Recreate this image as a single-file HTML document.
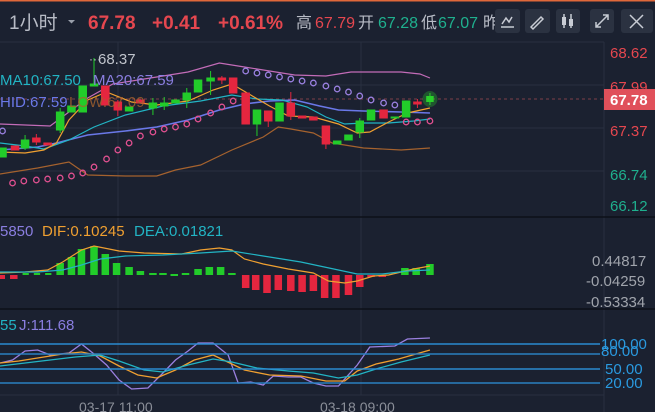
<!DOCTYPE html>
<html><head><meta charset="utf-8"><style>
html,body{margin:0;padding:0;background:#1b2130;width:655px;height:412px;overflow:hidden}
svg{display:block;font-family:"Liberation Sans","Noto Sans CJK SC",sans-serif}
.s *{vector-effect:non-scaling-stroke}
</style></head><body>
<svg width="655" height="412" viewBox="0 0 655 412">
<rect width="655" height="412" fill="#1b2130"/>
<rect x="0" y="0" width="655" height="1.5" fill="#e0683a"/>
<!-- header -->
<text x="9" y="29" font-size="19" fill="#b8bcc6">1小时</text>
<path d="M68 20 l3.5 3.5 l3.5 -3.5z" fill="#9aa0ab"/>
<text x="88" y="29" font-size="19" font-weight="bold" fill="#e5474f">67.78</text>
<text x="152" y="29" font-size="19" font-weight="bold" fill="#e5474f">+0.41</text>
<text x="218" y="29" font-size="19" font-weight="bold" fill="#e5474f">+0.61%</text>
<text x="296" y="28" font-size="16" fill="#b8bcc6">高</text>
<text x="315" y="28" font-size="16" fill="#e5474f">67.79</text>
<text x="358" y="28" font-size="16" fill="#b8bcc6">开</text>
<text x="378" y="28" font-size="16" fill="#1fb08e">67.28</text>
<text x="421" y="28" font-size="16" fill="#b8bcc6">低</text>
<text x="438" y="28" font-size="16" fill="#1fb08e">67.07</text>
<text x="483" y="28" font-size="16" fill="#b8bcc6">昨</text>
<g fill="#2b3241">
<rect x="495" y="9" width="25" height="24" rx="3"/><rect x="525" y="9" width="25" height="24" rx="3"/><rect x="556" y="9" width="24" height="24" rx="3"/><rect x="590" y="9" width="24" height="24" rx="3"/><rect x="621" y="9" width="32" height="24" rx="3"/></g>
<g stroke="#c8ccd4" stroke-width="1.5" fill="none">
<path d="M501 27h13M502 24l4-6 3 4 3-5"/><path d="M531 27l10-10 2 2-10 10z"/><path d="M564 14v14M571 14v14"/>
<path d="M596 27l12-12M596 22v5h5M608 20v-5h-5"/><path d="M630 15l13 13M643 15l-13 13"/></g>
<rect x="562" y="17" width="4" height="8" fill="#c8ccd4"/><rect x="569" y="19" width="4" height="7" fill="#c8ccd4"/>
<!-- grid -->
<g stroke="#283040" stroke-width="1">
<line x1="0" y1="42" x2="604" y2="42"/><line x1="0" y1="85" x2="604" y2="85"/><line x1="0" y1="128" x2="604" y2="128"/><line x1="0" y1="171" x2="604" y2="171"/>
<line x1="118" y1="42" x2="118" y2="395"/><line x1="361" y1="42" x2="361" y2="395"/><line x1="604" y1="42" x2="604" y2="412"/>
<line x1="0" y1="395" x2="604" y2="395"/></g>
<line x1="0" y1="217" x2="655" y2="217" stroke="#0d1118" stroke-width="1.5"/>
<line x1="0" y1="309" x2="655" y2="309" stroke="#0d1118" stroke-width="1.5"/>
<!-- price axis -->
<g font-size="15" fill="#e5474f"><text x="610" y="58">68.62</text><text x="610" y="92">67.99</text><text x="610" y="136">67.37</text></g>
<g font-size="15" fill="#1fb08e"><text x="610" y="180">66.74</text><text x="610" y="211">66.12</text></g>
<line x1="0" y1="99" x2="604" y2="99" stroke="#a04850" stroke-dasharray="3,3" stroke-width="0.8"/>
<rect x="604" y="89" width="51" height="21" fill="#e0505a"/>
<text x="610" y="105" font-size="15" font-weight="bold" fill="#fff">67.78</text>

<g class="s" transform="matrix(1.2535 0 0 1 0 0)">
<!-- bollinger -->
<polyline fill="none" stroke="#c36cb8" stroke-width="1.2" points="0,124 40,126 55,112 70,98 90,84 120,78 150,72 175,63 195,67 215,71 235,75 260,76 280,72 300,72 320,72 335,74 343,78"/>
<polyline fill="none" stroke="#a5622e" stroke-width="1.2" points="0,174 30,168 55,162 70,175 100,176 125,176 140,170 160,165 185,150 210,137 222,127 232,129 250,133 265,143 290,148 320,150 343,148"/>
<polyline fill="none" stroke="#6a78e8" stroke-width="1.6" points="0,150 30,147 45,143 70,135 100,131 125,127 150,120 175,110 195,104 215,101 235,100 255,106 270,110 290,111 320,112 343,113"/>
<polyline fill="none" stroke="#22b4c4" stroke-width="1.2" points="0,143 20,146 35,149 55,140 75,127 100,115 130,106 160,101 185,95 205,99 225,100 245,107 260,117 275,124 290,123 310,123 330,121 343,119"/>
<polyline fill="none" stroke="#f0a030" stroke-width="1.2" points="0,152 20,153 35,150 45,143 55,120 70,100 85,92 105,102 125,105 150,101 170,90 185,84 200,95 215,106 230,116 250,117 270,124 285,133 295,132 310,122 325,113 343,108"/>
<!-- SAR -->
<g fill="none" stroke="#e05090" stroke-width="1.3">
<ellipse cx="10" cy="183" rx="2.2" ry="2.8"/><ellipse cx="19" cy="181" rx="2.2" ry="2.8"/><ellipse cx="29" cy="180" rx="2.2" ry="2.8"/><ellipse cx="38" cy="179" rx="2.2" ry="2.8"/><ellipse cx="48" cy="178" rx="2.2" ry="2.8"/><ellipse cx="57" cy="176" rx="2.2" ry="2.8"/><ellipse cx="66" cy="173" rx="2.2" ry="2.8"/><ellipse cx="75" cy="167" rx="2.2" ry="2.8"/><ellipse cx="85" cy="159" rx="2.2" ry="2.8"/><ellipse cx="94" cy="150" rx="2.2" ry="2.8"/><ellipse cx="103" cy="143" rx="2.2" ry="2.8"/><ellipse cx="112" cy="136" rx="2.2" ry="2.8"/><ellipse cx="122" cy="132" rx="2.2" ry="2.8"/><ellipse cx="131" cy="129" rx="2.2" ry="2.8"/><ellipse cx="140" cy="127" rx="2.2" ry="2.8"/><ellipse cx="149" cy="124" rx="2.2" ry="2.8"/><ellipse cx="158" cy="119" rx="2.2" ry="2.8"/><ellipse cx="168" cy="113" rx="2.2" ry="2.8"/><ellipse cx="177" cy="107" rx="2.2" ry="2.8"/><ellipse cx="186" cy="101" rx="2.2" ry="2.8"/>
<ellipse cx="324" cy="122" rx="2.2" ry="2.8"/><ellipse cx="333" cy="122" rx="2.2" ry="2.8"/><ellipse cx="343" cy="121" rx="2.2" ry="2.8"/></g>
<g fill="none" stroke="#9a80e0" stroke-width="1.3">
<ellipse cx="2" cy="131" rx="2.2" ry="2.8"/><ellipse cx="196" cy="71" rx="2.2" ry="2.8"/><ellipse cx="205" cy="73" rx="2.2" ry="2.8"/><ellipse cx="214" cy="75" rx="2.2" ry="2.8"/><ellipse cx="223" cy="77" rx="2.2" ry="2.8"/><ellipse cx="232" cy="79" rx="2.2" ry="2.8"/><ellipse cx="241" cy="81" rx="2.2" ry="2.8"/><ellipse cx="250" cy="83" rx="2.2" ry="2.8"/><ellipse cx="260" cy="86" rx="2.2" ry="2.8"/><ellipse cx="269" cy="89" rx="2.2" ry="2.8"/><ellipse cx="278" cy="92" rx="2.2" ry="2.8"/><ellipse cx="287" cy="96" rx="2.2" ry="2.8"/><ellipse cx="296" cy="100" rx="2.2" ry="2.8"/><ellipse cx="306" cy="103" rx="2.2" ry="2.8"/><ellipse cx="315" cy="105" rx="2.2" ry="2.8"/></g>
<!-- candles -->
<g fill="#22cc2a" stroke="#22cc2a" stroke-width="1">
<rect x="-1" y="148" width="6" height="9"/><rect x="17" y="140" width="6" height="8"/><line x1="20" y1="135" x2="20" y2="150"/>
<rect x="45" y="112" width="6" height="18"/><line x1="48" y1="108" x2="48" y2="133"/><rect x="54" y="106" width="6" height="6"/><rect x="63" y="86" width="6" height="26"/>
<rect x="72" y="84" width="6" height="2"/><line x1="75" y1="58" x2="75" y2="86"/>
<rect x="100" y="107" width="6" height="4"/><rect x="119" y="103" width="6" height="5"/><line x1="122" y1="98" x2="122" y2="115"/><rect x="128" y="103" width="6" height="3"/><line x1="131" y1="97" x2="131" y2="110"/>
<rect x="137" y="100" width="6" height="3"/><rect x="146" y="93" width="6" height="7"/><line x1="149" y1="88" x2="149" y2="108"/><rect x="155" y="80" width="6" height="12"/><rect x="165" y="78" width="6" height="3"/><line x1="168" y1="71" x2="168" y2="95"/>
<rect x="202" y="110" width="6" height="14"/><line x1="205" y1="110" x2="205" y2="136"/><rect x="220" y="103" width="6" height="18"/>
<rect x="266" y="141" width="6" height="3"/><rect x="275" y="135" width="6" height="5"/><rect x="284" y="121" width="6" height="11"/><line x1="287" y1="118" x2="287" y2="138"/><rect x="293" y="110" width="6" height="10"/>
<rect x="312" y="117" width="6" height="1"/><rect x="321" y="101" width="6" height="16"/></g>
<g fill="#e5263f" stroke="#e5263f" stroke-width="1">
<rect x="9" y="146" width="6" height="4"/><rect x="26" y="138" width="6" height="4"/><line x1="29" y1="134" x2="29" y2="145"/><rect x="35" y="143" width="6" height="2"/>
<rect x="81" y="86" width="6" height="19"/><rect x="91" y="102" width="6" height="8"/><line x1="94" y1="100" x2="94" y2="116"/><rect x="109" y="100" width="6" height="3"/>
<line x1="177" y1="76" x2="177" y2="84"/><rect x="174" y="78" width="6" height="2"/><rect x="183" y="78" width="6" height="15"/><rect x="193" y="93" width="6" height="31"/>
<rect x="211" y="111" width="6" height="10"/><line x1="214" y1="111" x2="214" y2="127"/><rect x="229" y="103" width="6" height="13"/><line x1="232" y1="92" x2="232" y2="120"/>
<rect x="238" y="116" width="6" height="2"/><rect x="247" y="117" width="6" height="3"/><rect x="257" y="126" width="6" height="18"/><line x1="260" y1="126" x2="260" y2="149"/>
<rect x="303" y="110" width="6" height="8"/><rect x="330" y="102" width="6" height="2"/><line x1="333" y1="99" x2="333" y2="108"/></g>
<ellipse cx="343" cy="99" rx="6" ry="8" fill="#2ad02a" opacity="0.3"/>
<rect x="340" y="96" width="6" height="6" fill="#2ad02a"/><line x1="343" y1="93" x2="343" y2="105" stroke="#2ad02a"/>
<!-- MACD -->
<g fill="#22cc2a">
<rect x="18" y="273" width="5" height="2"/><rect x="27" y="273" width="5" height="2"/><rect x="36" y="273" width="5" height="2"/>
<rect x="45" y="263" width="6" height="12"/><rect x="54" y="257" width="6" height="18"/><rect x="62" y="249" width="6" height="26"/><rect x="72" y="246" width="6" height="29"/><rect x="81" y="254" width="6" height="21"/><rect x="90" y="263" width="6" height="12"/><rect x="100" y="267" width="6" height="8"/><rect x="109" y="271" width="6" height="4"/><rect x="119" y="273" width="6" height="2"/><rect x="127" y="273" width="6" height="2"/><rect x="136" y="274" width="6" height="2"/><rect x="145" y="273" width="6" height="2"/><rect x="155" y="269" width="6" height="6"/><rect x="164" y="267" width="6" height="8"/><rect x="173" y="267" width="6" height="8"/><rect x="182" y="273" width="6" height="2"/>
<rect x="320" y="268" width="6" height="7"/><rect x="329" y="268" width="6" height="7"/><rect x="340" y="264" width="6" height="11"/></g>
<g fill="#e5263f">
<rect x="-1" y="275" width="5" height="4"/><rect x="8" y="275" width="6" height="4"/>
<rect x="193" y="275" width="6" height="13"/><rect x="201" y="275" width="6" height="15"/><rect x="210" y="275" width="6" height="18"/><rect x="219" y="275" width="6" height="15"/><rect x="229" y="275" width="6" height="16"/><rect x="238" y="275" width="6" height="17"/><rect x="247" y="275" width="6" height="16"/><rect x="256" y="275" width="6" height="23"/><rect x="265" y="275" width="6" height="23"/><rect x="275" y="275" width="6" height="20"/><rect x="284" y="275" width="6" height="12"/><rect x="293" y="275" width="6" height="2"/><rect x="302" y="275" width="6" height="2"/></g>
<polyline fill="none" stroke="#f0a030" stroke-width="1.2" points="0,273 20,272 38,270 50,262 65,250 75,246 95,251 115,253 145,254 160,250 175,248 185,250 195,259 210,264 230,269 250,273 262,281 275,283 285,281 298,276 310,275 330,269 343,266"/>
<polyline fill="none" stroke="#22b4c4" stroke-width="1.2" points="0,272 30,272 50,270 65,265 80,259 100,256 130,255 160,253 185,251 210,256 240,262 270,270 285,274 305,274 325,271 343,270"/>
<!-- KDJ -->
<polyline fill="none" stroke="#9a80e0" stroke-width="1.3" points="0,363 10,360 20,351 30,350 40,355 55,353 65,344 75,354 85,365 95,380 105,389 118,388 130,373 140,360 150,351 158,343 170,343 182,355 190,383 200,382 210,385 218,376 230,377 240,377 250,383 260,386 270,386 285,365 295,347 315,346 325,339 343,338"/>
<polyline fill="none" stroke="#f0a030" stroke-width="1.3" points="0,363 15,361 30,358 50,354 65,352 80,356 95,366 110,375 125,378 140,370 155,360 170,355 185,364 195,370 215,375 240,376 260,381 275,381 285,371 300,364 318,359 343,350"/>
<polyline fill="none" stroke="#22b4c4" stroke-width="1.3" points="0,366 20,363 40,360 60,357 80,355 95,361 115,370 130,372 150,365 170,359 185,362 205,368 230,371 250,373 270,378 285,375 300,369 320,362 343,355"/>
</g>
<g stroke-width="1.4" fill="none">
<line x1="0" y1="344" x2="600" y2="344" stroke="#2a8ad0"/><line x1="0" y1="354" x2="600" y2="354" stroke="#2a80c0"/><line x1="0" y1="369" x2="600" y2="369" stroke="#2a8ad0"/><line x1="0" y1="383" x2="600" y2="383" stroke="#2a80c0"/></g>
<text x="98" y="64" font-size="15" fill="#c0c4cc">68.37</text>
<text x="89" y="63" font-size="12" fill="#c0c4cc">···</text>
<!-- legends -->
<text x="0" y="85" font-size="15" fill="#22b4c4">MA10:67.50</text>
<text x="93" y="85" font-size="15" fill="#8a7ee0">MA20:67.59</text>
<text x="0" y="107" font-size="15" fill="#6a78e8">HID:67.59</text>
<text x="69" y="107" font-size="15" fill="#a5622e" opacity="0.8">LOW:67.09</text>
<text x="0" y="236" font-size="15" fill="#8a7ee0">5850</text>
<text x="42" y="236" font-size="15" fill="#f0a030">DIF:0.10245</text>
<text x="134" y="236" font-size="15" fill="#22b4c4">DEA:0.01821</text>
<g font-size="15" fill="#a0a4ac"><text x="592" y="266">0.44817</text><text x="586" y="286">-0.04259</text><text x="586" y="307">-0.53334</text></g>
<text x="0" y="330" font-size="15" fill="#22b4c4">55</text>
<text x="19" y="330" font-size="15" fill="#8a7ee0">J:111.68</text>
<g font-size="15" fill="#2a9ae0"><text x="601" y="349">100.00</text><text x="601" y="356">80.00</text><text x="605" y="374">50.00</text><text x="605" y="388">20.00</text></g>
<g font-size="14" fill="#8a8e98"><text x="79" y="412">03-17 11:00</text><text x="320" y="412">03-18 09:00</text></g>
</svg>
</body></html>
